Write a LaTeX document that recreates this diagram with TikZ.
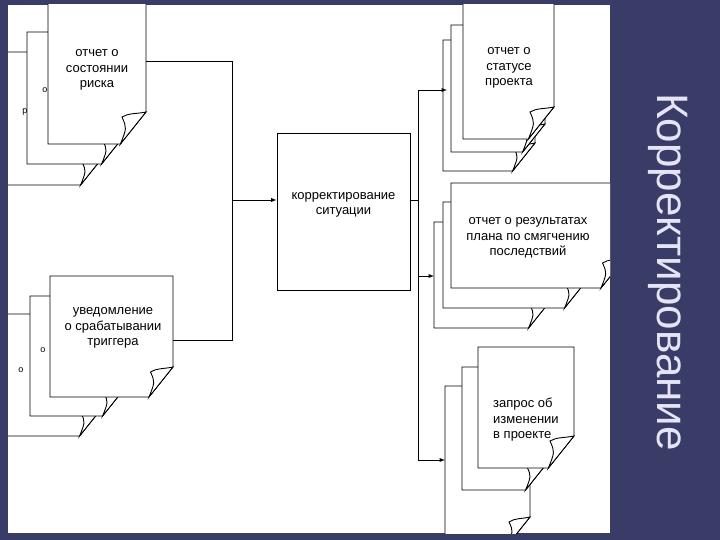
\documentclass[tikz,border=0pt]{standalone}
\usepackage{fontspec}
\setmainfont{Liberation Sans}
\begin{document}
\begin{tikzpicture}[x=1pt,y=-1pt,
  line/.style={black,line width=0.9pt},
  lbl/.style={align=center,font=\fontsize{13}{15.5}\selectfont,inner sep=0pt},
  arr/.style={line,-latex}]
\newcommand\docpg[5]{% x1 y1 x2 y2 fold
  \draw[line,fill=white] (#1,#2) -- (#3,#2) -- (#3,#4-#5) -- (#3-0.8*#5,#4) -- (#1,#4) -- cycle;
  \draw[line,fill=white] (#3,#4-#5) .. controls (#3-0.3*#5,#4-#5+2) and (#3-0.55*#5,#4-#5+1) .. (#3-0.75*#5,#4-#5+5) .. controls (#3-0.6*#5,#4-0.5*#5) .. (#3-0.8*#5,#4) -- cycle;}
\fill[fill={rgb,255:red,58;green,60;blue,104}] (0,0) rectangle (720,540);
\useasboundingbox (0,0) rectangle (720,540);
\fill[white] (8,5) rectangle (610,533);
\node[rotate=-90,text={rgb,255:red,228;green,228;blue,245},font=\fontsize{44}{48}\selectfont,inner sep=0pt] (title) at (668,272) {Корректирование};
\begin{scope}
\clip (8,5) rectangle (610,533);
% top-left group
\docpg{0}{52}{103}{185}{28}
\docpg{27}{32}{124}{164}{28}
\docpg{48}{-5}{146}{144}{32}
\node[inner sep=0pt,font=\small] (fa) at (45,90) {о};
\node[inner sep=0pt,font=\small] (fb) at (25,112) {р};
\node[lbl] (a1) at (97,70) {отчет о\\состоянии\\риска};
\coordinate (a1o) at (146,61);
% bottom-left group
\docpg{0}{314}{102}{436}{28}
\docpg{30}{296}{125}{416}{28}
\docpg{50}{276}{173}{397}{30}
\node[inner sep=0pt,font=\small] (fc) at (21,370) {о};
\node[inner sep=0pt,font=\small] (fd) at (43,350) {о};
\node[lbl] (b1) at (113,328) {уведомление\\о срабатывании\\триггера};
\coordinate (b1o) at (173,340);
% central box
\node[draw,line,minimum width=133pt,minimum height=157pt,inner sep=0pt] (box) at (343.5,211.5) {};
\node[lbl] (boxt) at (343.5,205) {корректирование\\ситуации};
\coordinate (j1) at (232,61);
\coordinate (j2) at (232,340);
\coordinate (j3) at (232,200);
\draw[line] (a1o) -- (j1) -- (j2) -- (b1o);
\draw[arr] (j3) -- (box.west|-j3);
% right groups
\docpg{443}{40}{535}{171}{28}
\docpg{451}{25}{545}{152}{28}
\docpg{463}{-5}{554}{139}{32}
\node[lbl] (c1) at (509,68) {отчет о\\статусе\\проекта};
\docpg{434}{222}{551}{328}{28}
\docpg{443}{202}{587}{308}{28}
\docpg{451}{183}{625}{288}{30}
\node[lbl] (d1) at (528,238) {отчет о результатах\\плана по смягчению\\последствий};
\docpg{445}{386}{530}{545}{28}
\docpg{462}{367}{548}{490}{28}
\docpg{478}{347}{574}{468}{32}
\node[lbl,align=left,anchor=west] (e1) at (493,420) {запрос об\\изменении\\в проекте};
\coordinate (s) at (418,200);
\coordinate (t1) at (418,90);
\coordinate (t2) at (418,276);
\coordinate (t3) at (418,460);
\draw[line] (box.east|-s) -- (s);
\draw[line] (t1) -- (t3);
\draw[arr] (t1) -- (447,90);
\draw[arr] (t2) -- (434,276);
\draw[arr] (t3) -- (445,460);
\end{scope}
\end{tikzpicture}
\end{document}
